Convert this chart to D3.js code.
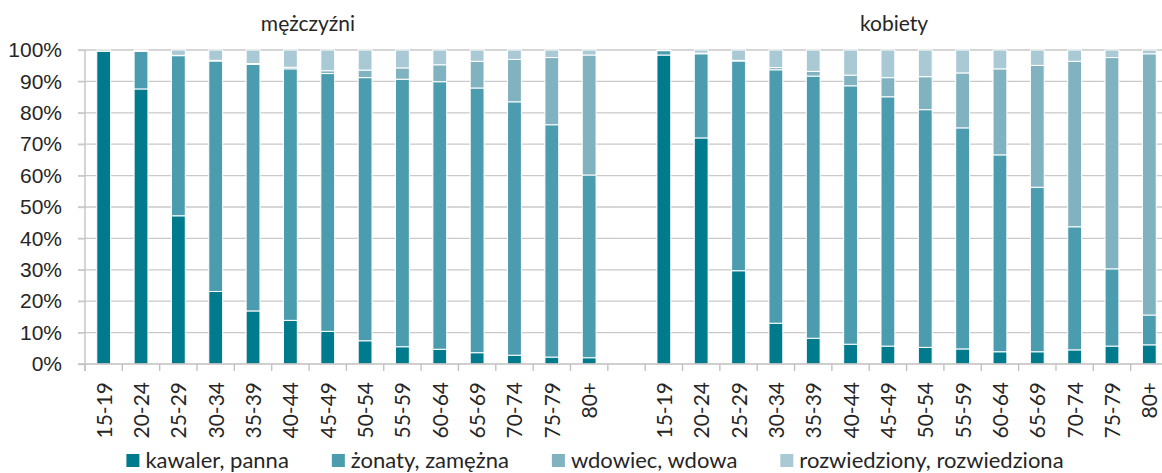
<!DOCTYPE html>
<html>
<head>
<meta charset="utf-8">
<script src="https://cdn.jsdelivr.net/npm/d3@7"></script>
<style>
  body { margin: 0; background: #fff; }
  svg { display: block; font-family: Lato, "Liberation Sans", sans-serif; }
  .axis text { fill: #262626; font-size: 21px; }
  .grid line { stroke: #c9c9c9; stroke-width: 1.3; }
  .title { fill: #262626; font-size: 21px; }
  .legend text { fill: #262626; font-size: 22px; }
</style>
</head>
<body>
<script>
var ageGroups = ["15-19", "20-24", "25-29", "30-34", "35-39", "40-44", "45-49",
                 "50-54", "55-59", "60-64", "65-69", "70-74", "75-79", "80+"];

var groupNames = ["mężczyźni", "kobiety"];

var seriesNames = ["kawaler, panna", "żonaty, zamężna", "wdowiec, wdowa", "rozwiedziony, rozwiedziona"];

var menSingle   = [99.6, 87.6, 47.2, 23.1, 16.9, 13.9, 10.4, 7.4, 5.5, 4.7, 3.6, 2.8, 2.2, 2.0];
var menMarried  = [0.4, 12.0, 51.0, 73.4, 78.5, 80.1, 82.1, 83.8, 85.2, 85.2, 84.3, 80.7, 74.0, 58.2];
var menWidowed  = [0, 0.1, 0.1, 0.2, 0.3, 0.5, 0.9, 2.4, 3.6, 5.4, 8.5, 13.5, 21.4, 38.2];
var menDivorced = [0, 0.3, 1.7, 3.3, 4.3, 5.5, 6.6, 6.4, 5.7, 4.7, 3.6, 3.0, 2.4, 1.6];

var womenSingle   = [98.4, 72.0, 29.7, 13.0, 8.2, 6.3, 5.7, 5.3, 4.8, 3.9, 3.9, 4.5, 5.7, 6.1];
var womenMarried  = [1.4, 26.8, 66.8, 80.7, 83.5, 82.3, 79.4, 75.7, 70.4, 62.7, 52.4, 39.2, 24.6, 9.5];
var womenWidowed  = [0, 0.2, 0.2, 0.7, 1.5, 3.4, 6.1, 10.5, 17.5, 27.4, 38.8, 52.7, 67.3, 83.2];
var womenDivorced = [0.2, 1.0, 3.3, 5.6, 6.8, 8.0, 8.8, 8.5, 7.3, 6.0, 4.9, 3.6, 2.4, 1.2];

var yTicks = [0, 10, 20, 30, 40, 50, 60, 70, 80, 90, 100];

var colors = ["#007b8e", "#4a9cae", "#80b2bf", "#a9cad5"];

var W = 1162, H = 473;
var margin = {top: 50, left: 85, bottom: 109};
var plotRight = 1168;

var svg = d3.select("body").append("svg")
    .attr("width", W)
    .attr("height", H);

// build rows: men, empty gap, women
var keys = ["s", "m", "w", "d"];
var rows = [];
ageGroups.forEach(function(a, i) {
  rows.push({id: "M" + a, label: a, s: menSingle[i], m: menMarried[i], w: menWidowed[i], d: menDivorced[i]});
});
rows.push({id: "gap", label: "", s: 0, m: 0, w: 0, d: 0});
ageGroups.forEach(function(a, i) {
  rows.push({id: "K" + a, label: a, s: womenSingle[i], m: womenMarried[i], w: womenWidowed[i], d: womenDivorced[i]});
});

var x = d3.scaleBand()
    .domain(rows.map(function(d) { return d.id; }))
    .range([margin.left, plotRight]);

var y = d3.scaleLinear()
    .domain([0, 100])
    .range([H - margin.bottom, margin.top]);

var barW = x.bandwidth() * 0.37;

// gridlines
svg.append("g")
    .attr("class", "grid")
  .selectAll("line")
    .data(yTicks.slice(1))
  .enter().append("line")
    .attr("x1", margin.left - 7)
    .attr("x2", plotRight)
    .attr("y1", function(d) { return y(d); })
    .attr("y2", function(d) { return y(d); });

// y axis
var yAxis = d3.axisLeft(y)
    .tickValues(yTicks)
    .tickSize(7)
    .tickPadding(16)
    .tickFormat(function(d) { return d + "%"; });

var gy = svg.append("g")
    .attr("class", "axis")
    .attr("transform", "translate(" + margin.left + ",0)")
    .call(yAxis);
gy.select(".domain").attr("stroke", "#bfbfbf").attr("stroke-width", 1.3)
    .attr("d", "M0," + (y(0) + 7) + "V" + y(100));
gy.selectAll(".tick line").attr("stroke", "#c9c9c9").attr("stroke-width", 1.3);

// stacked bars
var stack = d3.stack().keys(keys);
var series = stack(rows);

svg.append("g")
  .selectAll("g")
    .data(series)
  .enter().append("g")
    .attr("fill", function(d, i) { return colors[i]; })
  .selectAll("rect")
    .data(function(d) { return d.filter(function(p) { return p[1] - p[0] > 0; }); })
  .enter().append("rect")
    .attr("x", function(d) { return x(d.data.id) + (x.bandwidth() - barW) / 2; })
    .attr("width", barW)
    .attr("y", function(d) { return y(d[1]); })
    .attr("height", function(d) { return y(d[0]) - y(d[1]); })
    .attr("stroke", "#fff")
    .attr("stroke-width", 1);

// x axis line and category ticks
var gx = svg.append("g").attr("class", "axis");
gx.append("line")
    .attr("x1", margin.left - 7)
    .attr("x2", plotRight)
    .attr("y1", y(0))
    .attr("y2", y(0))
    .attr("stroke", "#bfbfbf")
    .attr("stroke-width", 1.3);

var bounds = rows.map(function(d) { return x(d.id); }).concat([plotRight]);
gx.selectAll(".xtick")
    .data(bounds)
  .enter().append("line")
    .attr("class", "xtick")
    .attr("x1", function(d) { return d; })
    .attr("x2", function(d) { return d; })
    .attr("y1", y(0))
    .attr("y2", y(0) + 7)
    .attr("stroke", "#bfbfbf")
    .attr("stroke-width", 1.3);

gx.selectAll(".xlabel")
    .data(rows.filter(function(d) { return d.label; }))
  .enter().append("text")
    .attr("class", "xlabel")
    .attr("transform", function(d) {
      return "translate(" + (x(d.id) + x.bandwidth() / 2 + 8) + "," + (y(0) + 18) + ") rotate(-90)";
    })
    .style("text-anchor", "end")
    .text(function(d) { return d.label; });

// group titles
svg.selectAll(".title")
    .data(groupNames)
  .enter().append("text")
    .attr("class", "title")
    .attr("x", function(d, i) { return i === 0 ? 308 : 894; })
    .attr("y", 31)
    .style("text-anchor", "middle")
    .text(function(d) { return d; });

// legend, laid out inline and centred
var legend = svg.append("g").attr("class", "legend");
var items = legend.selectAll("g")
    .data(seriesNames)
  .enter().append("g");
items.append("rect")
    .attr("width", 13)
    .attr("height", 13)
    .attr("y", 454)
    .attr("fill", function(d, i) { return colors[i]; });
items.append("text")
    .attr("x", 19)
    .attr("y", 468)
    .text(function(d) { return d; });

var gap = 43, cursor = 0, offsets = [];
items.each(function() {
  offsets.push(cursor);
  cursor += 19 + this.querySelector("text").getComputedTextLength() + gap;
});
var total = cursor - gap;
var start = 595 - total / 2;
items.attr("transform", function(d, i) { return "translate(" + (start + offsets[i]) + ",0)"; });
</script>
</body>
</html>
